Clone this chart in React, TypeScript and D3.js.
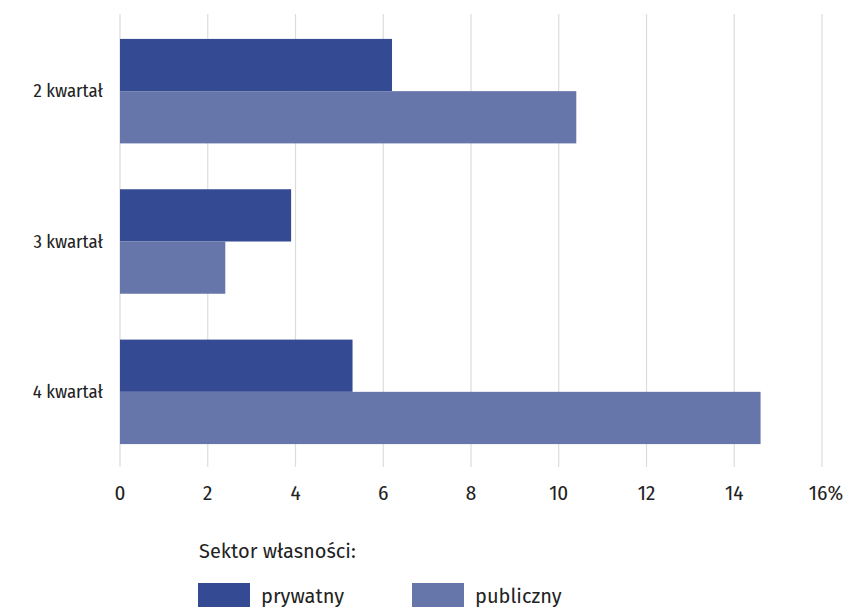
import React from "react";
import * as d3 from "d3";

const categories = ["2 kwartał", "3 kwartał", "4 kwartał"];
const series = ["prywatny", "publiczny"];
const prywatny = [6.2, 3.9, 5.3];
const publiczny = [10.4, 2.4, 14.6];
const xTicks = [0, 2, 4, 6, 8, 10, 12, 14, 16];
const legendTitle = "Sektor własności:";
const colors = ["#344a93", "#6776aa"];

const FONT = "'Fira Sans Condensed', 'Liberation Sans Narrow', 'Roboto Condensed', Roboto, sans-serif";
const LFONT = "'Fira Sans', 'Noto Sans', 'Open Sans', sans-serif";

export default function App() {
  const W = 848, H = 607;
  const x = d3.scaleLinear().domain([0, 16]).range([120, 822]);
  const y = d3.scaleBand<string>().domain(categories).range([16, 467]).paddingInner(0.305).paddingOuter(0.1524);
  const sub = d3.scaleBand<string>().domain(series).range([0, y.bandwidth()]);
  const values = [prywatny, publiczny];
  return (
    <svg width={W} height={H} style={{ position: "absolute", left: 0, top: 0 }} fontFamily={FONT}>
      <rect width={W} height={H} fill="#fff" />
      {xTicks.map((t) => (
        <line key={t} x1={x(t)} x2={x(t)} y1={14} y2={467} stroke="#dcdcdc" strokeWidth={1.2} />
      ))}
      {categories.map((c, i) =>
        series.map((s, j) => (
          <rect key={c + s} x={x(0)} y={(y(c) as number) + (sub(s) as number)} width={x(values[j][i]) - x(0)} height={sub.bandwidth()} fill={colors[j]} />
        ))
      )}
      {categories.map((c) => (
        <text key={c} x={103} y={(y(c) as number) + y.bandwidth() / 2} textAnchor="end" dominantBaseline="central" fontSize={18.7} fill="#222">{c}</text>
      ))}
      {xTicks.map((t, i) => (
        <text key={t} x={x(t) + (i === xTicks.length - 1 ? 4 : 0)} y={493} textAnchor="middle" dominantBaseline="central" fontSize={21} fill="#222">{t}{i === xTicks.length - 1 ? "%" : ""}</text>
      ))}
      <g fontFamily={LFONT}>
        <text x={199} y={551} dominantBaseline="central" fontSize={20} fill="#222">{legendTitle}</text>
        {series.map((s, j) => (
          <g key={s} transform={`translate(${198 + j * 214},583)`}>
            <rect width={52} height={26} fill={colors[j]} />
            <text x={63} y={13} dominantBaseline="central" fontSize={20} fill="#222">{s}</text>
          </g>
        ))}
      </g>
    </svg>
  );
}
